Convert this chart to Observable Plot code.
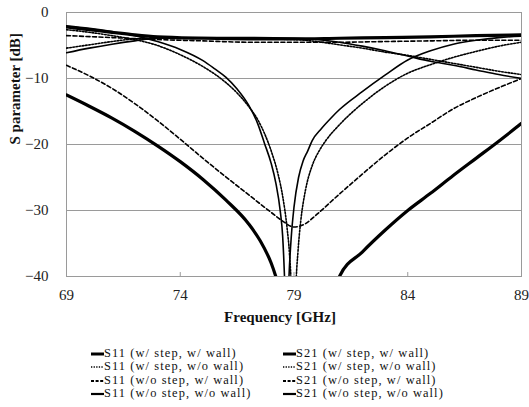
<!DOCTYPE html>
<html><head><meta charset="utf-8">
<script src="https://cdn.jsdelivr.net/npm/d3@7"></script>
<script src="https://cdn.jsdelivr.net/npm/@observablehq/plot@0.6"></script>
<style>
body{margin:0;background:#fff;width:529px;height:407px;overflow:hidden;font-family:'Liberation Serif','DejaVu Serif',serif;position:relative;}
#chart{position:absolute;left:0;top:0;}
#legend{position:absolute;left:0;top:347px;width:529px;}
.row{position:absolute;height:13px;line-height:13px;font-size:12.4px;letter-spacing:1.1px;color:#111;white-space:nowrap;font-family:'Liberation Serif','DejaVu Serif',serif;}
.row svg{position:absolute;left:0;top:0;}
.row span{position:absolute;display:block;left:13px;top:0;height:13px;line-height:13px;}
</style></head><body>
<div id="chart"></div><div id="legend"></div>
<script>
// Axis ticks
const xTicks = [69, 74, 79, 84, 89];
const xInnerTicks = [74, 79, 84];
const yTicks = [0, -10, -20, -30, -40];

// S11 (w/ step, w/ wall) — thick solid
const s11_ww_f  = [69,70,71,72,73,74,75,76,77,77.5,78,78.2,78.6,80.6,81,82,83,84,85,86,87,88,89];
const s11_ww_db = [-12.5,-14.2,-16.0,-18.0,-20.2,-22.6,-25.3,-28.4,-32.0,-34.5,-38.0,-40,-45,-45,-40,-36.3,-33.0,-30.0,-27.4,-24.7,-22.1,-19.5,-16.8];
// S11 (w/ step, w/o wall) — dotted
const s11_wo_f  = [69,70,71,72,73,74,75,76,76.5,77,77.4,77.7,78,78.3,78.5,78.7,78.8,78.88,78.93,79.02,79.08,79.18,79.3,79.5,79.8,80.1,80.4,81,82,83,84,85,86,87,88,89];
const s11_wo_db = [-2.6,-3.0,-3.5,-4.1,-5.0,-6.4,-8.2,-10.6,-12.2,-14.2,-16.2,-18.3,-21.0,-24.5,-27.8,-32.8,-36.5,-42,-50,-50,-42,-36,-31.5,-27,-23.2,-21,-19.4,-17,-13.8,-11.2,-9.2,-7.9,-6.8,-5.9,-5.1,-4.5];
// S11 (w/o step, w/ wall) — dashed
const s11_ow_f  = [69,70,71,72,73,74,75,76,77,78,78.5,79,79.5,80,81,82,83,84,85,86,87,88,89];
const s11_ow_db = [-8.0,-9.6,-11.5,-13.8,-16.4,-19.2,-22.1,-24.9,-27.6,-30.3,-31.6,-32.5,-32.0,-30.6,-27.5,-24.5,-21.6,-19.0,-16.8,-14.6,-12.9,-11.4,-10.0];
// S11 (w/o step, w/o wall) — thin solid
const s11_oo_f  = [69,70,71,72,73,74,75,75.5,76,76.5,77,77.4,77.7,78,78.2,78.4,78.5,78.58,78.64,78.72,78.78,78.88,79,79.2,79.4,79.6,79.8,80.2,80.65,81,82,83,84,85,86,87,88,89];
const s11_oo_db = [-2.0,-2.4,-2.9,-3.5,-4.4,-5.6,-7.3,-8.5,-9.8,-11.6,-14.0,-16.8,-19.8,-22.9,-25.8,-30.2,-33.8,-39.8,-46,-46,-40,-34,-29.5,-25,-22.5,-21,-19.4,-17.6,-15.9,-14.7,-12.0,-9.5,-7.2,-5.8,-4.8,-4.2,-3.8,-3.6];

// S21 (w/ step, w/ wall) — thick solid
const s21_ww_f  = [69,70,71,72,73,75,77,79,81,83,85,87,89];
const s21_ww_db = [-2.2,-2.6,-3.0,-3.4,-3.7,-3.9,-4.0,-4.0,-3.9,-3.8,-3.7,-3.5,-3.4];
// S21 (w/ step, w/o wall) — dotted
const s21_wo_f  = [69,70,71,72,73,75,77,79,80,81,82,83,84,85,86,87,88,89];
const s21_wo_db = [-5.4,-4.9,-4.4,-4.0,-3.9,-3.9,-4.0,-4.1,-4.4,-4.9,-5.4,-6.0,-6.5,-7.1,-7.7,-8.3,-8.9,-9.4];
// S21 (w/o step, w/ wall) — dashed
const s21_ow_f  = [69,71,73,75,77,79,81,83,85,87,89];
const s21_ow_db = [-3.5,-3.8,-4.1,-4.3,-4.5,-4.5,-4.5,-4.4,-4.3,-4.2,-4.2];
// S21 (w/o step, w/o wall) — thin solid
const s21_oo_f  = [69,70,71,72,73,75,77,79,80,81,82,83,84,85,86,87,88,89];
const s21_oo_db = [-6.1,-5.4,-4.8,-4.3,-3.9,-3.8,-3.8,-3.9,-4.1,-4.5,-5.1,-5.8,-6.6,-7.4,-8.0,-8.7,-9.4,-10.0];

const legendNames = [
  "S11 (w/ step, w/ wall)", "S11 (w/ step, w/o wall)", "S11 (w/o step, w/ wall)", "S11 (w/o step, w/o wall)",
  "S21 (w/ step, w/ wall)", "S21 (w/ step, w/o wall)", "S21 (w/o step, w/ wall)", "S21 (w/o step, w/o wall)"
];

const styles = {
  thick:  {strokeWidth: 3.2, dash: null, legendWidth: 3, legendDash: null},
  dotted: {strokeWidth: 1.6, dash: "1.6,1.6", legendWidth: 1.6, legendDash: "1.3,1.3"},
  dashed: {strokeWidth: 1.6, dash: "4,2.5", legendWidth: 1.8, legendDash: "3,1.6"},
  thin:   {strokeWidth: 1.6, dash: null, legendWidth: 2.2, legendDash: null}
};
const styleOrder = ["thick", "dotted", "dashed", "thin"];

const seriesData = [
  [s11_ww_f, s11_ww_db], [s11_wo_f, s11_wo_db], [s11_ow_f, s11_ow_db], [s11_oo_f, s11_oo_db],
  [s21_ww_f, s21_ww_db], [s21_wo_f, s21_wo_db], [s21_ow_f, s21_ow_db], [s21_oo_f, s21_oo_db]
];
const series = seriesData.map(([f, v], i) => ({
  name: legendNames[i],
  style: styleOrder[i % 4],
  rows: f.map((x, j) => ({f: x, db: v[j]}))
}));

const lineMarks = series.map(s => Plot.line(s.rows, {
  x: "f", y: "db", curve: "monotone-x", clip: true,
  stroke: "#000", strokeWidth: styles[s.style].strokeWidth,
  strokeDasharray: styles[s.style].dash
}));

const chart = Plot.plot({
  width: 529, height: 334,
  marginTop: 12, marginLeft: 66, marginRight: 8, marginBottom: 58,
  style: {fontFamily: "'Liberation Serif','DejaVu Serif',serif", background: "#fff"},
  x: {domain: [69, 89]},
  y: {domain: [-40, 0]},
  marks: [
    Plot.gridY(yTicks, {stroke: "#9a9a9a", strokeOpacity: 1, strokeWidth: 1}),
    Plot.frame({stroke: "#9a9a9a", strokeWidth: 1}),
    Plot.ruleX(xInnerTicks, {y1: -40, y2: -39.4, stroke: "#9a9a9a"}),
    ...lineMarks,
    Plot.axisX(xTicks, {tickSize: 0, tickPadding: 13, fontSize: 15, fill: "#222", label: null}),
    Plot.axisY(yTicks, {tickSize: 0, tickPadding: 18, fontSize: 15, fill: "#222", label: null}),
    Plot.text(["Frequency [GHz]"], {frameAnchor: "bottom", dy: 45, dx: -14, fontSize: 15, fontWeight: "bold", fill: "#111"}),
    Plot.text(["S parameter [dB]"], {frameAnchor: "left", dx: -51, rotate: -90, fontSize: 15, fontWeight: "bold", fill: "#111"})
  ]
});
document.getElementById("chart").appendChild(chart);

// Legend (two columns, four rows)
const legend = document.getElementById("legend");
const colX = [91, 283];
series.forEach((s, i) => {
  const col = Math.floor(i / 4), row = i % 4;
  const div = document.createElement("div");
  div.className = "row";
  div.style.left = colX[col] + "px";
  div.style.top = (row * 13.4) + "px";
  const st = styles[s.style];
  div.innerHTML = `<svg width="13" height="13"><line x1="0" x2="13" y1="7" y2="7" stroke="#000" stroke-width="${st.legendWidth}" ${st.legendDash ? `stroke-dasharray="${st.legendDash}"` : ""}/></svg><span>${s.name}</span>`;
  legend.appendChild(div);
});
</script>
</body></html>
